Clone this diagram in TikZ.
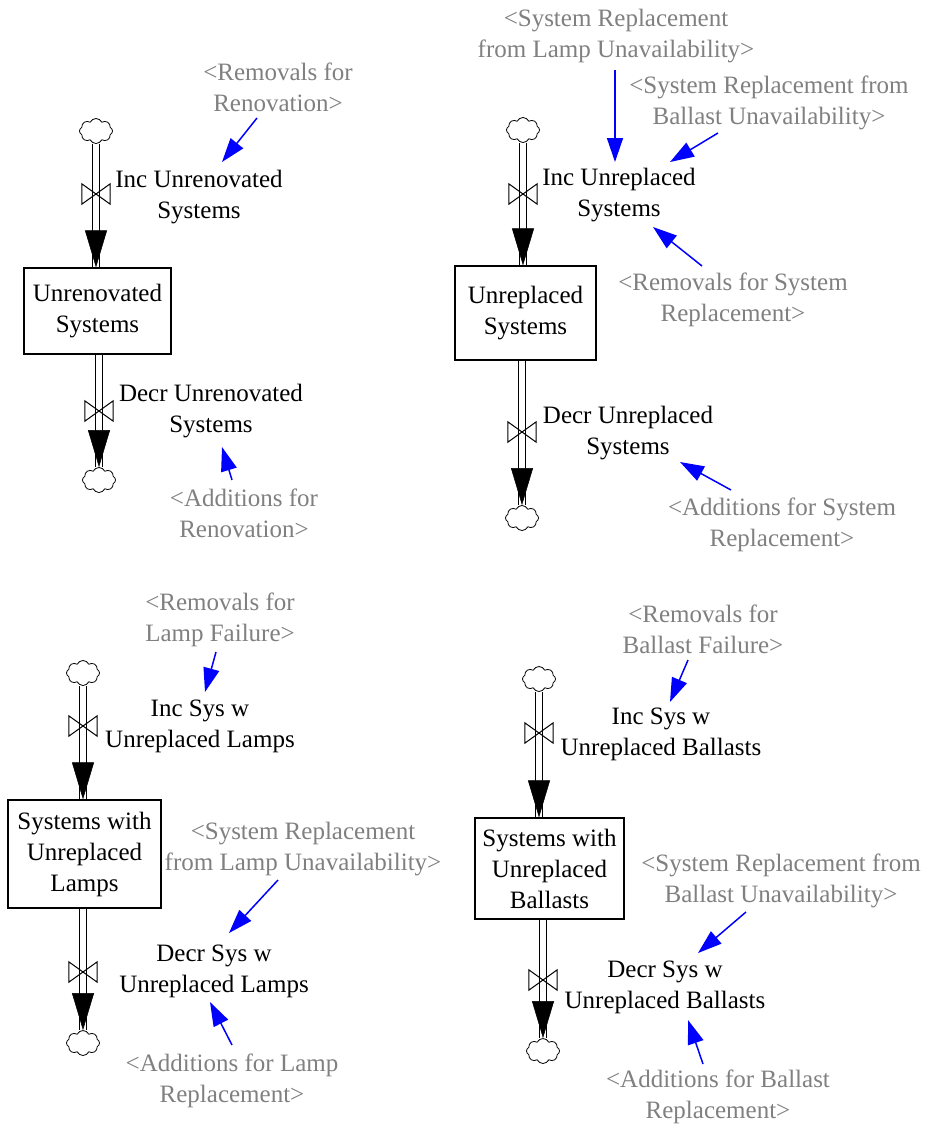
\documentclass[tikz,border=0pt]{standalone}
\usepackage{fontspec}
\setmainfont{Liberation Serif}
\usetikzlibrary{arrows.meta,shapes.symbols}
\definecolor{lblgray}{RGB}{128,128,128}
\tikzset{
  txt/.style={align=center,inner sep=0pt,font=\fontsize{25}{31}\selectfont},
  flowlbl/.style={txt,text=black},
  shadow/.style={txt,text=lblgray},
  stock/.style={draw,line width=1.2pt,inner sep=0pt,txt},
  cloudy/.style={cloud,cloud puffs=8,cloud puff arc=130,aspect=1.4,draw,line width=0.8pt,minimum width=33pt,minimum height=25pt,inner sep=0pt},
  valve/.style={minimum width=28pt,minimum height=20pt,inner sep=0pt},
  pipe/.style={draw=black,line width=1.3pt,double=white,double distance=5.5pt},
  headonly/.style={draw=white,line width=0.5pt,-{Triangle[length=37pt,width=22pt,black]}},
  info/.style={draw=blue,line width=1.5pt,-{Triangle[length=24pt,width=16pt,blue]}}
}
\newcommand{\valvemark}[1]{\draw[line width=1pt] (#1.north west) -- (#1.south east) -- (#1.north east) -- (#1.south west) -- cycle;}
\begin{document}
\begin{tikzpicture}[x=1pt,y=-1pt]
\useasboundingbox (0,0) rectangle (930,1128);
\fill[white] (0,0) rectangle (930,1128);

% ---------- Panel 1 ----------
\node[cloudy] (c1) at (96,131) {};
\node[valve] (v1) at (96,194) {};
\node[stock,minimum width=147pt,minimum height=86pt] (b1) at (97.5,311) {Unrenovated\\Systems};
\node[valve] (v2) at (99,411) {};
\node[cloudy] (c2) at (99,480) {};
\draw[pipe] (c1.south) -- (b1.north -| c1);
\draw[headonly] (v1.south) -- (b1.north -| v1);
\valvemark{v1}
\draw[pipe] (b1.south -| v2) -- (c2.north);
\draw[headonly] (v2.south) -- (c2.north);
\valvemark{v2}
\node[flowlbl] (f1) at (199,197) {Inc Unrenovated\\Systems};
\node[shadow] (g1) at (278,87) {<Removals for\\Renovation>};
\node[flowlbl] (f2) at (211,411) {Decr Unrenovated\\Systems};
\node[shadow] (g2) at (244,513) {<Additions for\\Renovation>};
\coordinate (a1s) at (257,118); \coordinate (a1e) at (222,162);
\draw[info] (a1s) -- (a1e);
\coordinate (a2s) at (232,480); \coordinate (a2e) at (222,447);
\draw[info] (a2s) -- (a2e);

% ---------- Panel 2 ----------
\node[cloudy] (c3) at (523,130) {};
\node[valve] (v3) at (523,194) {};
\node[stock,minimum width=141pt,minimum height=94pt] (b2) at (525.5,313) {Unreplaced\\Systems};
\node[valve] (v4) at (522,432) {};
\node[cloudy] (c4) at (522,518) {};
\draw[pipe] (c3.south) -- (b2.north -| c3);
\draw[headonly] (v3.south) -- (b2.north -| v3);
\valvemark{v3}
\draw[pipe] (b2.south -| v4) -- (c4.north);
\draw[headonly] (v4.south) -- (c4.north);
\valvemark{v4}
\node[flowlbl] (f3) at (619,195) {Inc Unreplaced\\Systems};
\node[shadow] (g3a) at (616,36) {<System Replacement\\from Lamp Unavailability>};
\node[shadow] (g3b) at (769,103) {<System Replacement from\\Ballast Unavailability>};
\node[shadow] (g3c) at (733,300) {<Removals for System\\Replacement>};
\node[flowlbl] (f4) at (628,433) {Decr Unreplaced\\Systems};
\node[shadow] (g4) at (782,525) {<Additions for System\\Replacement>};
\coordinate (a3s) at (615,70); \coordinate (a3e) at (615,162);
\draw[info] (a3s) -- (a3e);
\coordinate (a4s) at (718,133); \coordinate (a4e) at (670,162);
\draw[info] (a4s) -- (a4e);
\coordinate (a5s) at (702,266); \coordinate (a5e) at (653,227);
\draw[info] (a5s) -- (a5e);
\coordinate (a6s) at (731,490); \coordinate (a6e) at (680,462);
\draw[info] (a6s) -- (a6e);

% ---------- Panel 3 ----------
\node[cloudy] (c5) at (83,673) {};
\node[valve] (v5) at (83,726) {};
\node[stock,minimum width=153pt,minimum height=108pt] (b3) at (84.5,854) {Systems with\\Unreplaced\\Lamps};
\node[valve] (v6) at (83,972) {};
\node[cloudy] (c6) at (83,1043) {};
\draw[pipe] (c5.south) -- (b3.north -| c5);
\draw[headonly] (v5.south) -- (b3.north -| v5);
\valvemark{v5}
\draw[pipe] (b3.south -| v6) -- (c6.north);
\draw[headonly] (v6.south) -- (c6.north);
\valvemark{v6}
\node[flowlbl] (f5) at (200,726) {Inc Sys w\\Unreplaced Lamps};
\node[shadow] (g5) at (220,620) {<Removals for\\Lamp Failure>};
\node[flowlbl] (f6) at (214,971) {Decr Sys w\\Unreplaced Lamps};
\node[shadow] (g6a) at (303,849) {<System Replacement\\from Lamp Unavailability>};
\node[shadow] (g6b) at (232,1081) {<Additions for Lamp\\Replacement>};
\coordinate (a7s) at (216,652); \coordinate (a7e) at (205,692);
\draw[info] (a7s) -- (a7e);
\coordinate (a8s) at (278,880); \coordinate (a8e) at (229,933);
\draw[info] (a8s) -- (a8e);
\coordinate (a9s) at (232,1045); \coordinate (a9e) at (210,1002);
\draw[info] (a9s) -- (a9e);

% ---------- Panel 4 ----------
\node[cloudy] (c7) at (539,679) {};
\node[valve] (v7) at (539,733) {};
\node[stock,minimum width=149pt,minimum height=101pt] (b4) at (549.5,868.5) {Systems with\\Unreplaced\\Ballasts};
\node[valve] (v8) at (543,980) {};
\node[cloudy] (c8) at (543,1051) {};
\draw[pipe] (c7.south) -- (b4.north -| c7);
\draw[headonly] (v7.south) -- (b4.north -| v7);
\valvemark{v7}
\draw[pipe] (b4.south -| v8) -- (c8.north);
\draw[headonly] (v8.south) -- (c8.north);
\valvemark{v8}
\node[flowlbl] (f7) at (661,734) {Inc Sys w\\Unreplaced Ballasts};
\node[shadow] (g7) at (703,629) {<Removals for\\Ballast Failure>};
\node[flowlbl] (f8) at (665,987) {Decr Sys w\\Unreplaced Ballasts};
\node[shadow] (g8a) at (781,881) {<System Replacement from\\Ballast Unavailability>};
\node[shadow] (g8b) at (718,1097) {<Additions for Ballast\\Replacement>};
\coordinate (a10s) at (688,660); \coordinate (a10e) at (670,702);
\draw[info] (a10s) -- (a10e);
\coordinate (a11s) at (746,912); \coordinate (a11e) at (698,953);
\draw[info] (a11s) -- (a11e);
\coordinate (a12s) at (703,1064); \coordinate (a12e) at (688,1020);
\draw[info] (a12s) -- (a12e);
\end{tikzpicture}
\end{document}
